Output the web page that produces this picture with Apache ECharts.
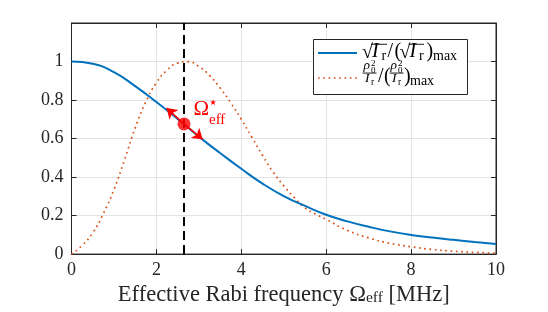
<!DOCTYPE html>
<html><head><meta charset="utf-8">
<script src="https://cdn.jsdelivr.net/npm/echarts@6/dist/echarts.min.js"></script>
<style>html,body{margin:0;padding:0;background:#fff}#c{width:548px;height:312px}</style>
</head><body><div id="c"></div>
<script>
// ---- data ----
const xTicks = [0, 2, 4, 6, 8, 10];
const yTicks = [0, 0.2, 0.4, 0.6, 0.8, 1];
const sqrtIrX = [0, 0.5, 1.0, 1.5, 2.0, 2.5, 3.0, 3.5, 4.0, 4.5, 5.0, 5.5, 6.0, 6.5, 7.0, 7.5, 8.0, 8.5, 9.0, 9.5, 10];
const sqrtIrY = [1.0, 0.988, 0.945, 0.872, 0.79, 0.702, 0.61, 0.525, 0.443, 0.366, 0.301, 0.25, 0.204, 0.17, 0.142, 0.118, 0.0995, 0.086, 0.074, 0.063, 0.053];
const ratioX = [0, 0.25, 0.5, 0.75, 1.0, 1.25, 1.5, 1.75, 2.0, 2.25, 2.5, 2.75, 3.0, 3.25, 3.5, 3.75, 4.0, 4.25, 4.5, 4.75, 5.0, 5.25, 5.5, 5.75, 6.0, 6.5, 7.0, 7.5, 8.0, 8.5, 9.0, 9.5, 10];
const ratioY = [0, 0.045, 0.11, 0.21, 0.335, 0.49, 0.655, 0.79, 0.89, 0.955, 0.992, 0.999, 0.974, 0.928, 0.863, 0.786, 0.70, 0.606, 0.512, 0.426, 0.355, 0.293, 0.24, 0.208, 0.18, 0.123, 0.084, 0.056, 0.038, 0.024, 0.015, 0.009, 0.005];
const optimumX = 2.65;
const optimumY = 0.676;
const arrowUpTip = [2.24, 0.758];
const arrowDownTip = [3.09, 0.596];

const BLUE = '#0072BD', ORANGE = '#D95319', RED = '#FF0000', AX = '#262626';
const SERIF = '"Liberation Serif", "DejaVu Serif", serif';

const chart = echarts.init(document.getElementById('c'), null, {renderer: 'canvas'});
const zip = (xs, ys) => xs.map((x, i) => [x, ys[i]]);
const fmtY = v => (Math.abs(v - 1.2) < 1e-6 ? '' : String(Math.round(v * 10) / 10));

const axisCommon = {
  type: 'value',
  axisLine: {show: true, onZero: false, lineStyle: {color: AX, width: 1}},
  axisTick: {show: true, inside: true, length: 5, lineStyle: {color: AX, width: 1}}
};

chart.setOption({
  backgroundColor: '#fff',
  animation: false,
  grid: {left: 71.5, right: 52, top: 23, bottom: 55, show: true, borderColor: AX, borderWidth: 1, backgroundColor: 'transparent'},
  xAxis: [
    Object.assign({}, axisCommon, {
      min: xTicks[0], max: xTicks[xTicks.length - 1], interval: xTicks[1] - xTicks[0],
      position: 'bottom',
      axisLabel: {color: AX, fontFamily: SERIF, fontSize: 18, margin: 7},
      splitLine: {show: true, lineStyle: {color: '#e3e3e3', width: 1}},
      name: '{a|Effective Rabi frequency Ω}{s|eff}{a| [MHz]}',
      nameLocation: 'middle', nameGap: 28,
      nameTextStyle: {
        color: AX, fontFamily: SERIF,
        rich: {
          a: {fontSize: 22.5, lineHeight: 21, fontFamily: SERIF, color: AX},
          s: {fontSize: 15.5, lineHeight: 10, verticalAlign: 'bottom', fontFamily: SERIF, color: AX}
        }
      }
    }),
    Object.assign({}, axisCommon, {
      min: xTicks[0], max: xTicks[xTicks.length - 1], interval: xTicks[1] - xTicks[0],
      position: 'top', axisLabel: {show: false}, splitLine: {show: false}
    })
  ],
  yAxis: [
    Object.assign({}, axisCommon, {
      min: 0, max: 1.2, interval: yTicks[1] - yTicks[0], position: 'left',
      axisLabel: {color: AX, fontFamily: SERIF, fontSize: 18, margin: 8, formatter: fmtY},
      splitLine: {show: true, lineStyle: {color: '#e3e3e3', width: 1}}
    }),
    Object.assign({}, axisCommon, {
      min: 0, max: 1.2, interval: yTicks[1] - yTicks[0], position: 'right',
      axisLabel: {show: false}, splitLine: {show: false}
    })
  ],
  series: [
    {
      type: 'line', name: 'sqrtIr', data: zip(sqrtIrX, sqrtIrY), smooth: 0.5,
      showSymbol: false, symbol: 'none', z: 3,
      lineStyle: {color: BLUE, width: 2}
    },
    {
      type: 'line', name: 'ratio', data: zip(ratioX, ratioY), smooth: 0.5,
      showSymbol: false, symbol: 'none', z: 2,
      lineStyle: {color: ORANGE, width: 1.7, type: [1.7, 3.6]},
      markLine: {
        silent: true, symbol: 'none', animation: false,
        label: {show: false},
        lineStyle: {color: '#000', width: 2, type: [9, 5]},
        data: [{xAxis: optimumX}]
      }
    },
    {
      type: 'scatter', name: 'optimum', data: [[optimumX, optimumY]], z: 6,
      symbol: 'circle', symbolSize: 13, itemStyle: {color: RED},
      markLine: {
        silent: true, symbol: ['none', 'arrow'], symbolSize: 10, animation: false,
        label: {show: false},
        lineStyle: {color: RED, width: 1.5, type: 'solid'},
        data: [
          [{coord: [optimumX, optimumY]}, {coord: arrowUpTip}],
          [{coord: [optimumX, optimumY]}, {coord: arrowDownTip}]
        ]
      }
    }
  ]
});

// ---- text helpers (legend + annotation) ----
function T(str, x, base, size, opt) {
  opt = opt || {};
  return {
    type: 'text', z: 100, silent: true,
    style: {
      text: str, x: x, y: base - 0.34 * size,
      font: (opt.italic ? 'italic ' : '') + size + 'px ' + (opt.family || SERIF),
      fill: opt.color || '#000', align: opt.align || 'left', verticalAlign: 'middle'
    }
  };
}
function bar(x1, x2, y, color) {
  return {type: 'rect', z: 100, silent: true, shape: {x: x1, y: y, width: x2 - x1, height: 0.9}, style: {fill: color || '#000'}};
}
function frac(x0) {
  // rho_0^2 / I_r stacked fraction, x0 = left of fraction bar
  return [
    T('ρ', x0 + 1, 70.5, 13.5, {italic: true}),
    T('2', x0 + 8.5, 67, 9),
    T('0', x0 + 8.5, 74, 9),
    bar(x0, x0 + 14, 72.6),
    T('I', x0 + 2.5, 83.5, 13.5, {italic: true}),
    T('r', x0 + 8.5, 86, 9.5)
  ];
}

const p = chart.convertToPixel({gridIndex: 0}, [optimumX, optimumY]);
const graphics = [
  {type: 'rect', z: 99, silent: true, shape: {x: 313.5, y: 39.5, width: 154, height: 55}, style: {fill: '#fff', stroke: AX, lineWidth: 1}},
  {type: 'line', z: 100, silent: true, shape: {x1: 318, y1: 53, x2: 357, y2: 53}, style: {stroke: BLUE, lineWidth: 2}},
  {type: 'line', z: 100, silent: true, shape: {x1: 318, y1: 78, x2: 357, y2: 78}, style: {stroke: ORANGE, lineWidth: 1.7, lineDash: [1.7, 3.6]}},
  // row 1: sqrt(I_r)/(sqrt(I_r))_max
  T('√', 362, 59.5, 20),
  bar(371, 387, 43.8),
  T('I', 372, 58.3, 20, {italic: true}),
  T('r', 381.5, 61.5, 14),
  T('/', 387.5, 58.3, 20),
  T('(', 394.5, 58.3, 20),
  T('√', 399.5, 59.5, 20),
  bar(408.5, 424, 43.8),
  T('I', 409.5, 58.3, 20, {italic: true}),
  T('r', 419, 61.5, 14),
  T(')', 426.5, 58.3, 20),
  T('max', 433, 61.5, 14),
  // row 2: (rho0^2/I_r)/(rho0^2/I_r)_max
  ...frac(362.5),
  T('/', 378, 84, 20),
  T('(', 384, 84, 20),
  ...frac(389.5),
  T(')', 404, 84, 20),
  T('max', 410, 86.5, 14)
];
graphics.push(
  T('Ω', p[0] + 9.5, p[1] - 7.6, 21, {color: RED}),
  T('★', p[0] + 25.5, p[1] - 18.5, 8, {color: RED, family: '"DejaVu Sans", sans-serif'}),
  T('eff', p[0] + 25, p[1] + 0.8, 15, {color: RED})
);
chart.setOption({graphic: graphics});
</script>
</body></html>
